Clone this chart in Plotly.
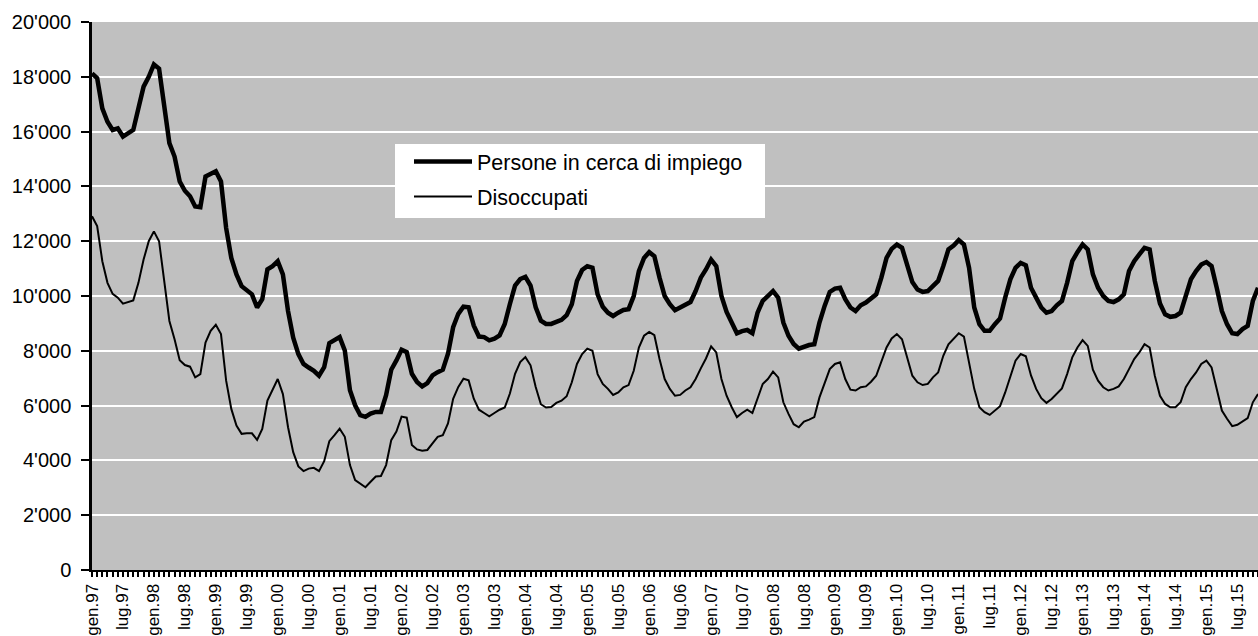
import plotly.graph_objects as go

MESI = ["gen", "feb", "mar", "apr", "mag", "giu", "lug", "ago", "set", "ott", "nov", "dic"]
ANNI = ["97", "98", "99", "00", "01", "02", "03", "04", "05", "06", "07", "08",
        "09", "10", "11", "12", "13", "14", "15"]

TICK_LABELS = ["gen.97", "lug.97", "gen.98", "lug.98", "gen.99", "lug.99", "gen.00", "lug.00",
               "gen.01", "lug.01", "gen.02", "lug.02", "gen.03", "lug.03", "gen.04", "lug.04",
               "gen.05", "lug.05", "gen.06", "lug.06", "gen.07", "lug.07", "gen.08", "lug.08",
               "gen.09", "lug.09", "gen.10", "lug.10", "gen.11", "lug.11", "gen.12", "lug.12",
               "gen.13", "lug.13", "gen.14", "lug.14", "gen.15", "lug.15"]

PERSONE = [
    18120, 17950, 16850, 16360, 16060, 16120, 15820, 15940, 16060, 16850, 17640, 18000,
    18450, 18300, 17030, 15580, 15090, 14180, 13840, 13640, 13270, 13240, 14360, 14450,
    14550, 14180, 12480, 11390, 10790, 10360, 10200, 10060, 9580, 9880, 10970, 11090,
    11270, 10790, 9450, 8480, 7880, 7520, 7390, 7270, 7090, 7400, 8280, 8400,
    8500, 8010, 6560, 6010, 5650, 5590, 5710, 5770, 5770, 6380, 7310, 7650,
    8040, 7950, 7160, 6860, 6700, 6820, 7100, 7220, 7310, 7890, 8860, 9350,
    9610, 9590, 8920, 8520, 8500, 8380, 8440, 8560, 8980, 9710, 10380, 10620,
    10700, 10380, 9590, 9100, 8980, 8980, 9050, 9130, 9300, 9700, 10550, 10950,
    11090, 11030, 10060, 9610, 9390, 9270, 9390, 9490, 9520, 10000, 10910, 11390,
    11600, 11450, 10670, 10000, 9700, 9480, 9580, 9700, 9780, 10180, 10670, 10970,
    11330, 11090, 10000, 9420, 9030, 8640, 8720, 8760, 8640, 9390, 9820, 10000,
    10180, 9940, 9030, 8550, 8250, 8080, 8150, 8210, 8240, 9030, 9640, 10150,
    10270, 10300, 9880, 9580, 9450, 9660, 9760, 9900, 10060, 10670, 11390, 11720,
    11880, 11760, 11090, 10510, 10240, 10150, 10180, 10360, 10550, 11090, 11700, 11840,
    12040, 11880, 11030, 9580, 8970, 8730, 8730, 8970, 9180, 9940, 10610, 11030,
    11210, 11120, 10300, 9940, 9580, 9390, 9450, 9660, 9820, 10480, 11270, 11600,
    11880, 11700, 10790, 10300, 10000, 9820, 9780, 9880, 10060, 10910, 11270, 11520,
    11760, 11700, 10550, 9730, 9330, 9240, 9270, 9390, 10060, 10610, 10910, 11150,
    11240, 11090, 10300, 9450, 8970, 8640, 8610, 8790, 8910, 9820, 10300,
]

DISOCCUPATI = [
    12910, 12550, 11270, 10480, 10080, 9940, 9720, 9780, 9840, 10480, 11330, 12000,
    12360, 12000, 10550, 9090, 8420, 7660, 7480, 7420, 7030, 7150, 8300, 8730,
    8950, 8610, 6910, 5880, 5270, 4970, 4990, 4990, 4750, 5150, 6180, 6550,
    6970, 6420, 5210, 4300, 3780, 3610, 3700, 3730, 3610, 3970, 4700, 4920,
    5160, 4860, 3830, 3280, 3160, 3020, 3220, 3410, 3430, 3830, 4740, 5050,
    5600, 5560, 4560, 4400, 4350, 4380, 4620, 4860, 4920, 5350, 6250, 6680,
    6980, 6920, 6250, 5850, 5730, 5610, 5730, 5850, 5930, 6440, 7160, 7590,
    7770, 7470, 6680, 6050, 5930, 5950, 6100, 6180, 6340, 6850, 7520, 7880,
    8080, 8000, 7150, 6790, 6610, 6390, 6480, 6670, 6750, 7270, 8120, 8550,
    8690, 8570, 7700, 6970, 6610, 6360, 6390, 6550, 6670, 6970, 7360, 7720,
    8160, 7940, 6970, 6360, 5940, 5580, 5730, 5850, 5730, 6240, 6790, 6970,
    7240, 7030, 6120, 5700, 5320, 5210, 5420, 5490, 5580, 6300, 6790, 7330,
    7520, 7580, 6970, 6580, 6550, 6670, 6700, 6870, 7090, 7640, 8120, 8450,
    8610, 8420, 7760, 7090, 6850, 6750, 6790, 7030, 7210, 7820, 8240, 8450,
    8640, 8520, 7580, 6610, 5940, 5760, 5660, 5820, 5980, 6480, 7090, 7640,
    7880, 7800, 7100, 6610, 6270, 6100, 6240, 6420, 6630, 7150, 7760, 8120,
    8390, 8180, 7310, 6910, 6670, 6550, 6610, 6700, 6970, 7330, 7700, 7940,
    8240, 8120, 7090, 6360, 6060, 5940, 5940, 6120, 6670, 6970, 7210, 7520,
    7640, 7390, 6610, 5820, 5520, 5250, 5300, 5420, 5540, 6120, 6420,
]

CATEGORIE = [f"{m}.{a}" for a in ANNI for m in MESI][:len(PERSONE)]

FONT = "Arial, 'Liberation Sans', sans-serif"

# plot area geometry (px) used to place the legend
L, T, W, H = 92, 22, 1166, 548

fig = go.Figure()
fig.add_trace(go.Scatter(
    x=CATEGORIE, y=PERSONE, mode="lines", name="Persone in cerca di impiego",
    line=dict(color="black", width=4.5), legendgroup="a",
))
fig.add_trace(go.Scatter(
    x=CATEGORIE, y=DISOCCUPATI, mode="lines", name="Disoccupati",
    line=dict(color="black", width=2), legendgroup="b",
))

fig.update_layout(
    width=1258, height=636,
    margin=dict(l=L, r=0, t=T, b=66, autoexpand=False),
    paper_bgcolor="white",
    plot_bgcolor="#C0C0C0",
    separators=".'",
    font=dict(family=FONT, color="black"),
    showlegend=True,
    legend=dict(
        x=(409 - L) / W, y=(T + H - 141) / H, xanchor="left", yanchor="top",
        bgcolor="rgba(0,0,0,0)", borderwidth=0, font=dict(size=21.5, family=FONT),
        itemwidth=58, traceorder="grouped", tracegroupgap=4,
    ),
    shapes=[dict(
        type="rect", xref="paper", yref="paper", layer="above",
        x0=(395 - L) / W, x1=(765 - L) / W,
        y0=(T + H - 218) / H, y1=(T + H - 144) / H,
        fillcolor="white", line=dict(width=0),
    )],
)

fig.update_xaxes(
    type="category", range=[0, len(CATEGORIE) - 1], automargin=False,
    tickmode="array", tickvals=CATEGORIE,
    ticktext=[c if c in TICK_LABELS else "" for c in CATEGORIE],
    tickangle=-90, tickfont=dict(size=17, family=FONT),
    ticks="outside", ticklen=5, tickwidth=1.5, tickcolor="black",
    showline=True, linecolor="black", linewidth=2,
    showgrid=False, zeroline=False,
)
fig.update_yaxes(
    range=[0, 20000], dtick=2000, tick0=0, tickformat=",d", automargin=False,
    tickfont=dict(size=20, family=FONT),
    ticks="outside", ticklen=8, tickwidth=2, tickcolor="black",
    showline=True, linecolor="black", linewidth=2.5,
    showgrid=True, gridcolor="white", gridwidth=2,
    zeroline=False, ticklabelstandoff=6,
)

fig.write_html(
    "out.html",
    config={"displayModeBar": False},
    post_script="document.body.style.margin='0';document.body.style.overflow='hidden';",
)
